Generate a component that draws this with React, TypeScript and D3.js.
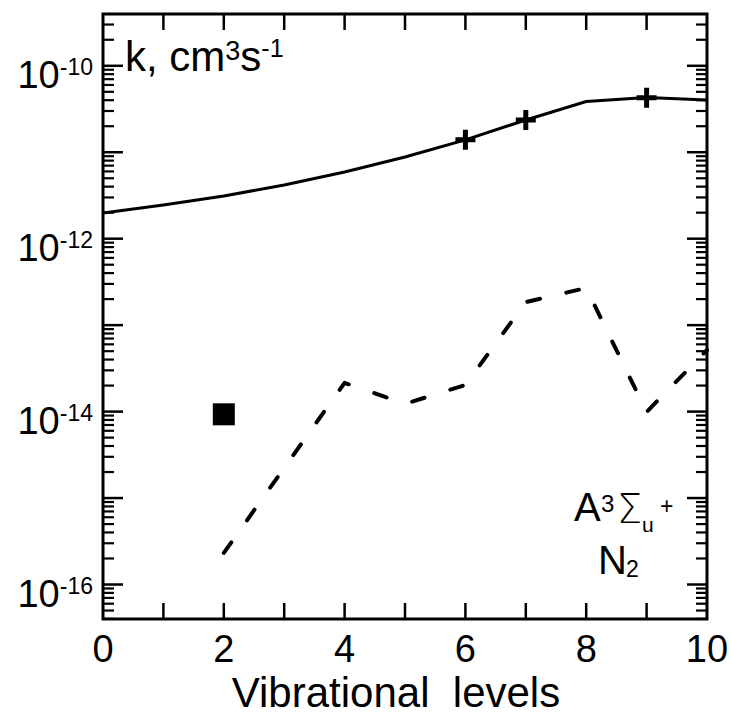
import React from "react";
import * as d3 from "d3";

// ---- data ----
const levels = [0, 1, 2, 3, 4, 5, 6, 7, 8, 9, 10];
const rateSolid = [1.98e-12, 2.45e-12, 3.12e-12, 4.18e-12, 5.92e-12, 8.81e-12, 1.39e-11, 2.36e-11, 3.86e-11, 4.3e-11, 4.02e-11];
const dashedLevels = [2, 4, 5, 6, 7, 8, 9, 10];
const rateDashed = [2.32e-16, 2.15e-14, 1.23e-14, 2.03e-14, 1.85e-13, 2.69e-13, 9.9e-15, 5.16e-14];
const crossLevels = [6, 7, 9];
const crossRates = [1.39e-11, 2.36e-11, 4.28e-11];
const squareLevels = [2];
const squareRates = [9.3e-15];
const xTickValues = [0, 2, 4, 6, 8, 10];
const yLabelExponents = [-10, -12, -14, -16];
const decadeExponents = [-17, -16, -15, -14, -13, -12, -11, -10, -9];

const W = 731, H = 717;
const L = 103, R = 707, T = 14, B = 619;
const FONT = "'Liberation Sans', Arial, Helvetica, sans-serif";

export default function App() {
  const x = d3.scaleLinear().domain([0, 10]).range([L, R]);
  const y = d3.scaleLog().domain([Math.pow(10, -16.399), Math.pow(10, -9.401)]).range([B, T]);
  const [yMin, yMax] = y.domain();

  const majors: number[] = [];
  const minors: number[] = [];
  decadeExponents.forEach((e) => {
    const base = Math.pow(10, e);
    if (base >= yMin && base <= yMax) majors.push(base);
    for (let k = 2; k <= 9; k++) {
      const v = k * base;
      if (v >= yMin && v <= yMax) minors.push(v);
    }
  });

  const solidLine = d3
    .line<number>()
    .x((_, i) => x(levels[i]))
    .y((d) => y(d));
  const dashedLine = d3
    .line<number>()
    .x((_, i) => x(dashedLevels[i]))
    .y((d) => y(d));

  const xMinorTicks = d3.range(1, 10);

  return (
    <svg
      width={W}
      height={H}
      style={{ position: "absolute", left: 0, top: 0, background: "#fff" }}
      fontFamily={FONT}
    >
      <rect x={0} y={0} width={W} height={H} fill="#fff" />
      {/* x ticks bottom & top */}
      {xMinorTicks.map((v) => (
        <g key={"xt" + v} stroke="#000" strokeWidth={2.5}>
          <line x1={x(v)} x2={x(v)} y1={B} y2={B - 16} />
          <line x1={x(v)} x2={x(v)} y1={T} y2={T + 16} />
        </g>
      ))}
      {/* y ticks left & right */}
      {majors.map((v) => (
        <g key={"ym" + v} stroke="#000" strokeWidth={2.5}>
          <line x1={L} x2={L + 20} y1={y(v)} y2={y(v)} />
          <line x1={R} x2={R - 20} y1={y(v)} y2={y(v)} />
        </g>
      ))}
      {minors.map((v) => (
        <g key={"yn" + v} stroke="#000" strokeWidth={2.2}>
          <line x1={L} x2={L + 11} y1={y(v)} y2={y(v)} />
          <line x1={R} x2={R - 11} y1={y(v)} y2={y(v)} />
        </g>
      ))}
      {/* frame */}
      <rect x={L} y={T} width={R - L} height={B - T} fill="none" stroke="#000" strokeWidth={3} />

      {/* x tick labels */}
      {xTickValues.map((v) => (
        <text key={"xl" + v} x={x(v)} y={662} fontSize={38} textAnchor="middle" fill="#000">
          {v}
        </text>
      ))}
      {/* y tick labels */}
      {yLabelExponents.map((e) => {
        const yy = y(Math.pow(10, e));
        return (
          <text key={"yl" + e} x={93} y={yy + 22.5} fontSize={38} textAnchor="end" fill="#000">
            10
            <tspan fontSize={23} dy={-13}>
              {String(e)}
            </tspan>
          </text>
        );
      })}

      {/* x axis label */}
      <text x={396} y={707} fontSize={42} textAnchor="middle" fill="#000" style={{ whiteSpace: "pre" }}>
        {"Vibrational  levels"}
      </text>

      {/* y units label */}
      <text x={125} y={71} fontSize={42} fill="#000">
        k, cm
        <tspan fontSize={27} dy={-11}>3</tspan>
        <tspan fontSize={42} dy={11}>s</tspan>
        <tspan fontSize={25} dy={-14}>-1</tspan>
      </text>

      {/* data */}
      <path d={solidLine(rateSolid) || ""} fill="none" stroke="#000" strokeWidth={3} />
      <path
        d={dashedLine(rateDashed) || ""}
        fill="none"
        stroke="#000"
        strokeWidth={4}
        strokeDasharray="13,27"
        strokeLinecap="round"
        strokeLinejoin="round"
      />
      {crossLevels.map((lv, i) => (
        <path
          key={"c" + lv}
          transform={`translate(${x(lv)},${y(crossRates[i])})`}
          d="M-10,0H10M0,-10V10"
          stroke="#000"
          strokeWidth={5}
        />
      ))}
      {squareLevels.map((lv, i) => (
        <rect
          key={"s" + lv}
          x={x(lv) - 11}
          y={y(squareRates[i]) - 11}
          width={22}
          height={22}
          fill="#000"
        />
      ))}

      {/* state label */}
      <text x={574} y={521} fontSize={40} fill="#000">A</text>
      <text x={601} y={512} fontSize={24} fill="#000">3</text>
      <text x={617} y={523} fontSize={40} fontFamily="'DejaVu Sans', sans-serif" fontWeight={200} fill="#000">Σ</text>
      <text x={642} y={532} fontSize={21} fill="#000">u</text>
      <text x={660} y={514} fontSize={23} fill="#000">+</text>
      <text x={598} y={574} fontSize={40} fill="#000">N</text>
      <text x={626} y={577} fontSize={23} fill="#000">2</text>
    </svg>
  );
}
